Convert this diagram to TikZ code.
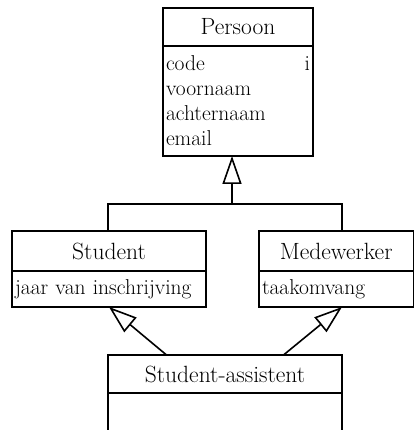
\documentclass[tikz,border=0pt]{standalone}
\usepackage{fontspec}
\usepackage{tikz}
\usetikzlibrary{arrows.meta, calc, positioning}

\tikzset{
    kop/.style={draw, line width=1.6pt, outer sep=0pt, inner sep=0pt, minimum height=38pt, font=\fontsize{23.5}{27}\selectfont},
    attr/.style={draw, line width=1.6pt, outer sep=0pt, inner xsep=3pt, inner ysep=0pt, align=left, font=\fontsize{21.5}{25}\selectfont},
    gen/.style={-{Triangle[open, length=28pt, width=19pt]}, line width=1.6pt},
}

\begin{document}
\begin{tikzpicture}[x=1pt, y=-1pt]
    \useasboundingbox (0,0) rectangle (415,430);
    \clip (0,0) rectangle (415,430);

    % klassen: kop met attributen eronder
    \node[kop, minimum width=150pt] (persoon) at (238,27) {Persoon};
    \node[attr, below=0pt of persoon, minimum width=150pt, minimum height=110pt, text width=144pt] (persoonAttr) {code\hfill i\hspace{4pt}\\ voornaam\\ achternaam\\ email};

    \node[kop, minimum width=194pt, minimum height=40pt] (student) at (109,251) {Student};
    \node[attr, below=0pt of student, minimum width=194pt, minimum height=36pt, text width=188pt] (studentAttr) {jaar van inschrijving};

    \node[kop, minimum width=154.5pt, minimum height=40pt] (medewerker) at (336.25,251) {Medewerker};
    \node[attr, below=0pt of medewerker, minimum width=154.5pt, minimum height=36pt, text width=148.5pt] (medewerkerAttr) {taakomvang};

    \node[kop, minimum width=234pt] (assistent) at (225,374) {Student-assistent};
    \node[attr, below=0pt of assistent, minimum width=234pt, minimum height=50pt, text width=228pt] (assistentAttr) {};

    % generalisaties
    \coordinate (knik) at (232,204);
    \coordinate (links) at (108,204);
    \coordinate (rechts) at (342,204);
    \draw[line width=1.6pt] (student.north -| links) -- (links) -- (rechts) -- (medewerker.north -| rechts);
    \draw[gen] (knik) -- (knik |- persoonAttr.south);
    \draw[gen] ($(assistent.north west)!0.25!(assistent.north east)$) -- (studentAttr.south);
    \draw[gen] ($(assistent.north west)!0.75!(assistent.north east)$) -- (medewerkerAttr.south -| rechts);
\end{tikzpicture}
\end{document}
